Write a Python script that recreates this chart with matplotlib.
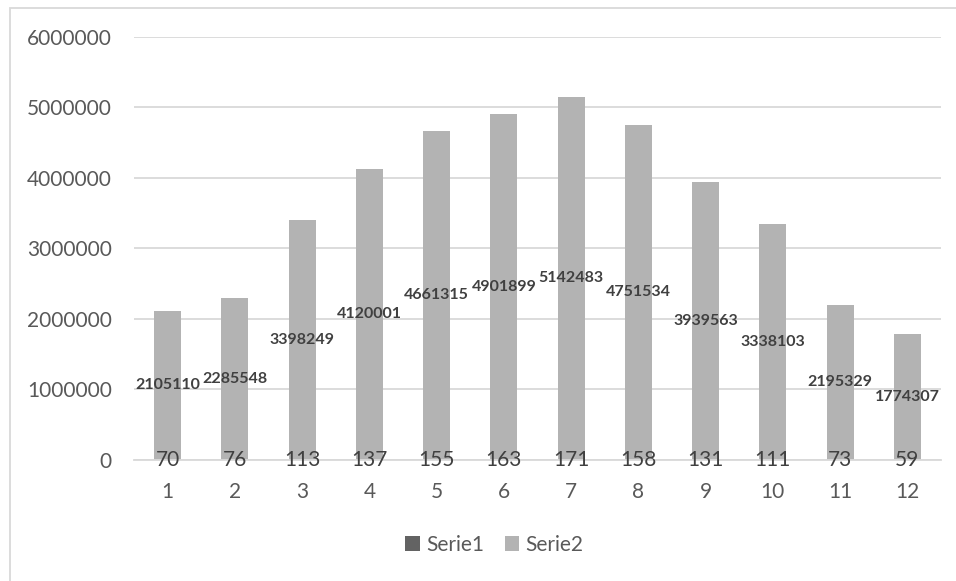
import matplotlib
matplotlib.use('Agg')
import matplotlib.pyplot as plt
from matplotlib.patches import Rectangle

months = ['1', '2', '3', '4', '5', '6', '7', '8', '9', '10', '11', '12']
serie1 = [70, 76, 113, 137, 155, 163, 171, 158, 131, 111, 73, 59]
serie2 = [2105110, 2285548, 3398249, 4120001, 4661315, 4901899,
          5142483, 4751534, 3939563, 3338103, 2195329, 1774307]
y_ticks = [0, 1000000, 2000000, 3000000, 4000000, 5000000, 6000000]

plt.rcParams['font.family'] = ['Lato', 'DejaVu Sans']

fig = plt.figure(figsize=(9.56, 5.81), dpi=100)
ax = fig.add_axes([0.1402, 0.2091, 0.8441, 0.7277])

x = list(range(len(months)))
b1 = ax.bar(x, serie1, width=0.4, color='#636363', label='Serie1', zorder=3)
b2 = ax.bar(x, serie2, width=0.4, color='#b3b3b3', label='Serie2', zorder=2)

# labels sit in the middle of each bar
for i in x:
    ax.text(i, serie2[i] / 2, str(serie2[i]), ha='center', va='center',
            fontsize=11.5, fontweight='bold', color='#404040', zorder=4)
    ax.text(i, serie1[i] / 2, str(serie1[i]), ha='center', va='center',
            fontsize=15, color='#404040', zorder=4)

ax.set_xlim(-0.5, len(months) - 0.5)
ax.set_ylim(0, 6000000)
ax.set_yticks(y_ticks)
ax.set_yticklabels([str(v) for v in y_ticks])
ax.set_xticks(x)
ax.set_xticklabels(months)
ax.tick_params(axis='both', length=0, labelsize=15, labelcolor='#595959')
ax.tick_params(axis='y', pad=16)
ax.tick_params(axis='x', pad=16)
ax.yaxis.grid(True, color='#d9d9d9', linewidth=1.3, zorder=0)
for s in ['top', 'right', 'left']:
    ax.spines[s].set_visible(False)
ax.spines['bottom'].set_color('#d9d9d9')
ax.spines['bottom'].set_linewidth(1.3)

fig.legend(handles=[b1, b2], loc='center', bbox_to_anchor=(0.517, 0.062),
           ncol=2, frameon=False, fontsize=15, handlelength=0.7,
           handleheight=0.7, handletextpad=0.3, columnspacing=1.0,
           labelcolor='#595959')

# outer chart border (only the top and left edges fall inside the image)
fig.patches.append(Rectangle((9.5 / 956, -0.1), 1.2, 1.1 - 7.5 / 581,
                             transform=fig.transFigure, fill=False,
                             edgecolor='#d9d9d9', linewidth=1.3))

fig.savefig('out.png', dpi=100)
